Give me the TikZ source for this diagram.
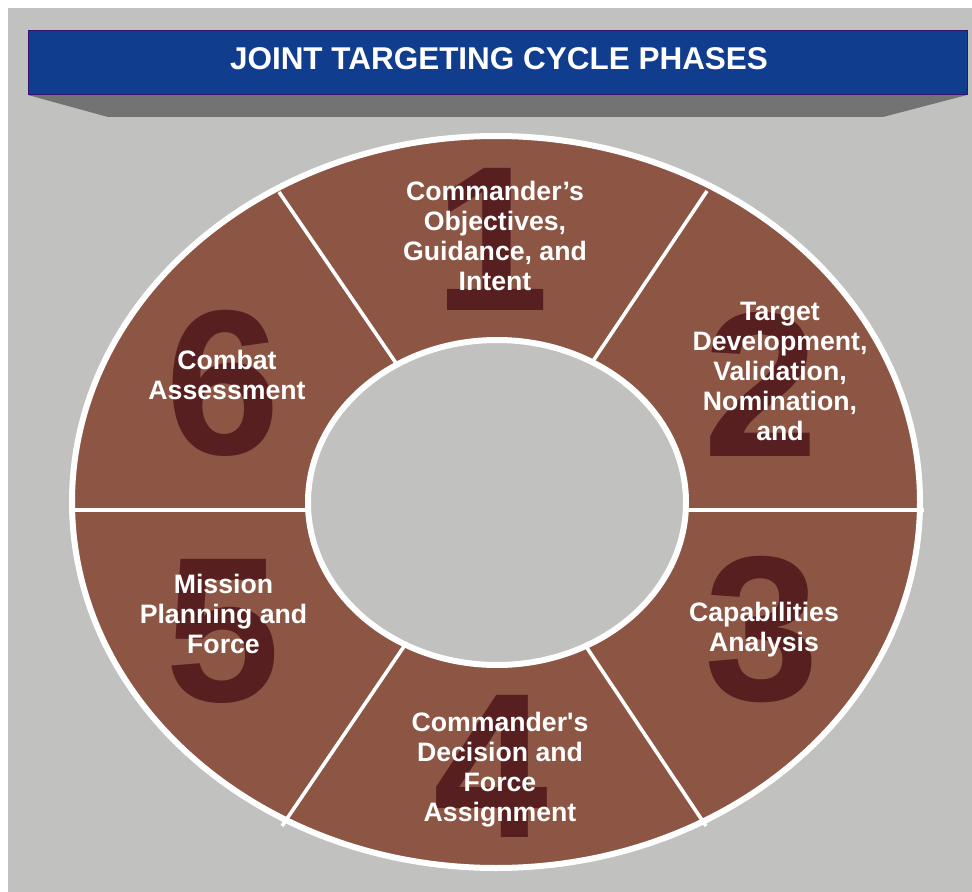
\documentclass[tikz,border=0pt]{standalone}
\usepackage{fontspec}
\setmainfont{Liberation Sans}
\usepackage{tikz}

\definecolor{ringbrown}{RGB}{141,86,68}
\definecolor{digitdark}{RGB}{88,31,33}
\definecolor{panelgray}{RGB}{193,193,191}
\definecolor{bannerblue}{RGB}{17,61,142}
\definecolor{shadowgray}{RGB}{115,115,115}

\tikzset{
  phase label/.style={text=white, font=\fontsize{20}{22.5}\selectfont\bfseries, align=center, inner sep=0pt},
  phase number/.style={text=digitdark, font=\fontsize{155}{155}\selectfont\bfseries, inner sep=0pt},
  divider/.style={draw=white, line width=2.7pt},
  ring edge/.style={draw=white, line width=4.5pt},
}

\begin{document}
\begin{tikzpicture}[x=0.75pt,y=0.75pt,yscale=-1,xscale=1]
\useasboundingbox (0,0) rectangle (972,892);

% Background
\fill [white] (0,0) rectangle (972,892);
\fill [panelgray] (8,8) rectangle (972,892);

% Banner
\fill [shadowgray] (28,95) -- (967,95) -- (883,117) -- (108,117) -- cycle;
\draw [fill=bannerblue, draw={rgb, 255:red, 50; green, 20; blue, 110}, line width=0.75pt] (28,31) rectangle (967,95);
\draw (499,59) node (title) [text=white, font=\fontsize{23.6}{27}\selectfont\bfseries, inner sep=0pt] {JOINT TARGETING CYCLE PHASES};

% Ring
\draw [ring edge, fill=ringbrown] (496,502) ellipse (424 and 366);

% Phase numbers
\draw (492,239) node (numone) [phase number] {1};
\draw (761,384) node (numtwo) [phase number] {2};
\draw (762,630) node (numthree) [phase number] {3};
\draw (491,766) node (numfour) [phase number] {4};
\draw (223,631) node (numfive) [phase number] {5};
\draw (223,383) node (numsix) [phase number] {6};

% Dividers
\coordinate (tlout) at (279,192);
\coordinate (tlin) at (398,366);
\coordinate (trout) at (707,191);
\coordinate (trin) at (591,364);
\coordinate (blout) at (282,826);
\coordinate (blin) at (407,642);
\coordinate (brout) at (706,826);
\coordinate (brin) at (583,642);
\coordinate (lout) at (69,510);
\coordinate (lin) at (320,510);
\coordinate (rout) at (924,510);
\coordinate (rin) at (675,510);
\draw [divider] (tlout) -- (tlin);
\draw [divider] (trout) -- (trin);
\draw [divider] (blout) -- (blin);
\draw [divider] (brout) -- (brin);
\draw [divider] (lout) -- (lin);
\draw [divider] (rout) -- (rin);

% Hub
\draw [ring edge, fill=panelgray] (497,502.5) ellipse (189 and 162.5);

% Text Node
\draw (495,235.5) node (phaseone) [phase label] {Commander’s\\Objectives,\\Guidance, and\\Intent};
% Text Node
\draw (780,371) node (phasetwo) [phase label] {Target\\Development,\\Validation,\\Nomination,\\and};
% Text Node
\draw (764,630) node (phasethree) [phase label] {Capabilities\\Analysis};
% Text Node
\draw (500,769.5) node (phasefour) [phase label] {Commander\textquotesingle s\\Decision and\\Force\\Assignment};
% Text Node
\draw (223.5,613.5) node (phasefive) [phase label] {Mission\\Planning and\\Force};
% Text Node
\draw (227,375) node (phasesix) [phase label] {Combat\\Assessment};

\end{tikzpicture}
\end{document}
